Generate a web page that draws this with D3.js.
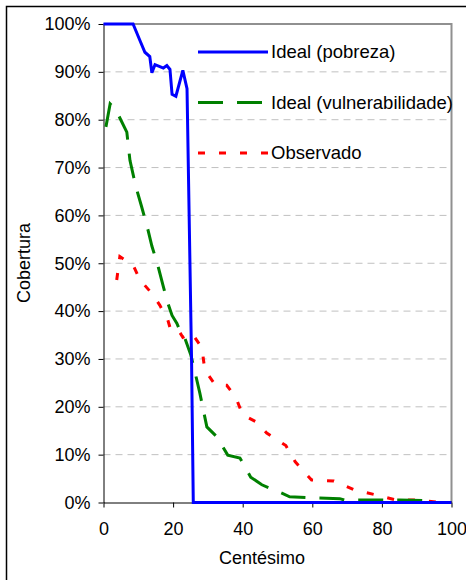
<!DOCTYPE html>
<html>
<head>
<meta charset="utf-8">
<script src="https://cdn.jsdelivr.net/npm/d3@7"></script>
<style>
  body { margin: 0; background: #fff; }
  svg { font-family: "Liberation Sans", Arial, sans-serif; }
</style>
</head>
<body>
<div id="plot"></div>
<script>
// Data (x = centésimo, y = cobertura in %)
const pobrezaX = [0, 8.5, 10.5, 11.9, 13.3, 13.9, 14.8, 16.2, 17.2, 18.2, 19.1, 19.7, 20.8, 22.8, 24.0, 25.3, 25.8, 100];
const pobrezaY = [100, 100, 96.5, 94.1, 93.2, 89.8, 91.5, 91.1, 90.8, 91.3, 90.5, 85.3, 84.9, 90.3, 86.5, 30, 0, 0];

const vulnX = [0.7, 1.9, 3.6, 6.7, 7.6, 9.3, 11.0, 12.8, 13.9, 15.6, 17.1, 18.2, 19.7, 21.1, 21.9, 22.9, 25.1, 26.3, 27.7, 29.7, 32.6, 35.7, 39.2, 42.3, 45.5, 47.8, 50.5, 53.5, 59.6, 67.9, 69.3, 75.6, 85, 92, 93, 100];
const vulnY = [78.5, 83.3, 82, 77.4, 71.5, 66, 61.7, 56.9, 53.6, 49.6, 45.4, 42.3, 39.1, 37.4, 36, 35.3, 30.8, 27.2, 22.8, 15.8, 13.7, 9.9, 9.3, 5.3, 3.7, 3, 2.2, 1.2, 1, 0.8, 0.5, 0.5, 0.5, 0.4, 0, 0];

const obsX = [3.8, 4.7, 6.5, 8.5, 10.5, 13.9, 16.2, 18.5, 19.1, 21.0, 22.8, 25.4, 28.3, 29.1, 32.0, 35.4, 38.0, 40.0, 44.0, 46.9, 52.4, 55.1, 59.8, 66.2, 72.2, 78.2, 84.2, 90.0, 95.7, 100];
const obsY = [46.5, 51.4, 50.5, 49.6, 46.5, 43.7, 41.2, 38.1, 36.6, 36.7, 34.5, 35.4, 32.3, 27.7, 24.7, 24.5, 22.0, 18.3, 16.8, 14.5, 11.9, 8.5, 4.7, 4.5, 2.6, 1.6, 0.5, 0.5, 0.1, 0];

const xTicks = [0, 20, 40, 60, 80, 100];
const yTicks = [0, 10, 20, 30, 40, 50, 60, 70, 80, 90, 100];

const series = [
  {name: "Ideal (pobreza)", xs: pobrezaX, ys: pobrezaY, color: "#0000ff", dash: null},
  {name: "Ideal (vulnerabilidade)", xs: vulnX, ys: vulnY, color: "#008000", dash: "25,14"},
  {name: "Observado", xs: obsX, ys: obsY, color: "#ff0000", dash: "7,14"}
];

const width = 466;
const height = 580;
const margin = {top: 24, right: 14, bottom: 78, left: 103.5};
const fontSize = 18;

const svg = d3.select("#plot")
  .append("svg")
  .attr("width", width)
  .attr("height", height);

// Outer frame
svg.append("rect")
  .attr("x", 6.5)
  .attr("y", 6.5)
  .attr("width", 500)
  .attr("height", 600)
  .attr("fill", "none")
  .attr("stroke", "#000")
  .attr("stroke-width", 1.5);

const x = d3.scaleLinear()
  .domain([0, 100])
  .range([margin.left, 451.5]);

const y = d3.scaleLinear()
  .domain([0, 100])
  .range([502.5, margin.top]);

// Gridlines
svg.append("g")
  .selectAll("line")
  .data(yTicks.filter(d => d > 0 && d < 100))
  .join("line")
  .attr("x1", x(0))
  .attr("x2", x(100))
  .attr("y1", d => y(d))
  .attr("y2", d => y(d))
  .attr("stroke", "#c0c0c0")
  .attr("stroke-dasharray", "7,5");

// Plot area border top/right in gray
svg.append("path")
  .attr("d", `M${x(0)},${y(100)}H${x(100)}V${y(0)}`)
  .attr("fill", "none")
  .attr("stroke", "#909090")
  .attr("stroke-width", 2);

// Axes
const xAxis = svg.append("g")
  .attr("transform", `translate(0,${y(0)})`)
  .call(d3.axisBottom(x).tickValues(xTicks).tickSize(5).tickPadding(15).tickSizeOuter(0));

const yAxis = svg.append("g")
  .attr("transform", `translate(${x(0)},0)`)
  .call(d3.axisLeft(y).tickValues(yTicks).tickFormat(d => d + "%").tickSize(5).tickPadding(8).tickSizeOuter(0));

[xAxis, yAxis].forEach(g => {
  g.selectAll("text")
    .attr("font-size", fontSize)
    .attr("font-family", "Liberation Sans, Arial, sans-serif")
    .attr("fill", "#000");
  g.select(".domain").attr("stroke", "#000");
  g.selectAll(".tick line").attr("stroke", "#000");
});

// Axis titles
svg.append("text")
  .attr("x", 262)
  .attr("y", 564)
  .attr("text-anchor", "middle")
  .attr("font-size", fontSize)
  .text("Centésimo");

svg.append("text")
  .attr("transform", `translate(30,${263}) rotate(-90)`)
  .attr("text-anchor", "middle")
  .attr("font-size", fontSize)
  .text("Cobertura");

// Lines
const line = d3.line()
  .x(d => x(d[0]))
  .y(d => y(d[1]));

svg.append("g")
  .selectAll("path")
  .data(series.slice().reverse())
  .join("path")
  .attr("d", s => line(s.xs.map((v, i) => [v, s.ys[i]])))
  .attr("fill", "none")
  .attr("stroke", s => s.color)
  .attr("stroke-width", 3)
  .attr("stroke-dasharray", s => s.dash);

// Legend
const legend = svg.append("g")
  .attr("transform", "translate(198,52)");

legend.selectAll("line")
  .data(series)
  .join("line")
  .attr("x1", 0)
  .attr("x2", 70)
  .attr("y1", (d, i) => i * 50.5)
  .attr("y2", (d, i) => i * 50.5)
  .attr("stroke", d => d.color)
  .attr("stroke-width", 3)
  .attr("stroke-dasharray", d => d.dash);

legend.selectAll("text")
  .data(series)
  .join("text")
  .attr("x", 73)
  .attr("y", (d, i) => i * 50.5 + 6)
  .attr("font-size", 18.5)
  .text(d => d.name);
</script>
</body>
</html>
